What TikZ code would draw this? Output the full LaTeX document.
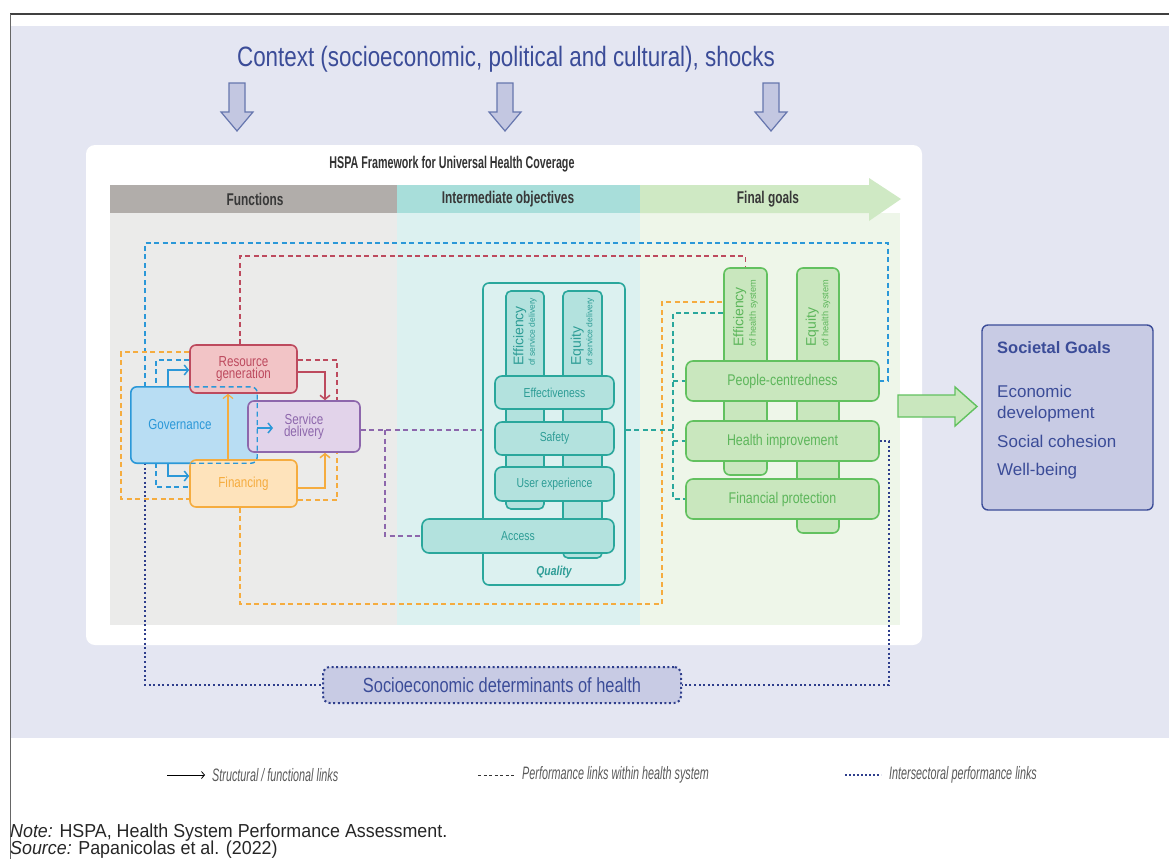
\documentclass[tikz,border=0pt]{standalone}
\usepackage{fontspec}
\setmainfont{Liberation Sans}
\newfontfamily\condfont[FakeStretch=0.8]{Liberation Sans}
\newfontfamily\headfont[FakeStretch=0.7]{Liberation Sans}
\newfontfamily\titlefont[FakeStretch=0.63]{Liberation Sans}
\newfontfamily\narrowfont[FakeStretch=0.6]{Liberation Sans}
\newfontfamily\notefont[FakeStretch=0.95]{Liberation Sans}
\usetikzlibrary{arrows.meta,calc}

\definecolor{bgLav}{HTML}{E4E6F2}
\definecolor{navy}{HTML}{3B4C98}
\definecolor{arrFill}{HTML}{C3C7E1}
\definecolor{arrLine}{HTML}{6676AE}
\definecolor{fnHead}{HTML}{B1ADAA}
\definecolor{fnBg}{HTML}{EBEBEA}
\definecolor{ioHead}{HTML}{A8DEDA}
\definecolor{ioBg}{HTML}{DCF1F0}
\definecolor{fgHead}{HTML}{CFE9C4}
\definecolor{fgBg}{HTML}{EEF6E9}
\definecolor{govLine}{HTML}{2B98D8}
\definecolor{govFill}{HTML}{B8DDF3}
\definecolor{resLine}{HTML}{BD4A5E}
\definecolor{resFill}{HTML}{F2C4C6}
\definecolor{sdLine}{HTML}{8D67AC}
\definecolor{sdFill}{HTML}{E2D3EA}
\definecolor{finLine}{HTML}{F5AC3F}
\definecolor{finFill}{HTML}{FEE3BB}
\definecolor{qLine}{HTML}{2AA79C}
\definecolor{qFill}{HTML}{B3E2DE}
\definecolor{qText}{HTML}{2E9D96}
\definecolor{gLine}{HTML}{62C15F}
\definecolor{gFill}{HTML}{C9E7BE}
\definecolor{gText}{HTML}{5DB65B}
\definecolor{dotBlue}{HTML}{2E3E8C}
\definecolor{sgFill}{HTML}{C8CBE4}

\pgfdeclarelayer{bg}
\pgfdeclarelayer{links}
\pgfsetlayers{bg,links,main}

\tikzset{
  box/.style={draw, rounded corners=6pt, line width=1.6pt, inner sep=0pt, align=center},
  fnbox/.style={box, font=\condfont\fontsize{14.5}{12.5}\selectfont},
  qbar/.style={box, draw=qLine, fill=qFill, text=qText, rounded corners=7pt,
    minimum width=119pt, minimum height=33pt, font=\condfont\fontsize{13}{13}\selectfont},
  gbar/.style={box, draw=gLine, fill=gFill, text=gText, rounded corners=7pt,
    minimum width=193pt, minimum height=40pt, font=\condfont\fontsize{15.5}{15}\selectfont},
  qpill/.style={box, draw=qLine, fill=qFill, rounded corners=5pt},
  gpill/.style={box, draw=gLine, fill=gFill, rounded corners=6pt},
  pilltext/.style={rotate=90, anchor=west, align=left, inner sep=0pt,
    font=\fontsize{9}{11.5}\selectfont},
  struct/.style={line width=1.5pt, -{Straight Barb[length=4pt,width=10pt]}},
  perf/.style={line width=1.4pt, dash pattern=on 5pt off 3.5pt},
  inter/.style={draw=dotBlue, line width=2pt, dash pattern=on 2pt off 2.6pt},
  headtext/.style={font=\headfont\bfseries\fontsize{17}{17}\selectfont, text=black!78},
  legendtext/.style={anchor=west, inner sep=0pt, text=black!65,
    font=\narrowfont\itshape\fontsize{18}{18}\selectfont},
}

\begin{document}
\begin{tikzpicture}[x=1pt,y=-1pt]
\useasboundingbox (0,0) rectangle (1169,859);

%%% frame and background
\begin{pgfonlayer}{bg}
  \fill[bgLav] (11,26) rectangle (1169,738);
  \draw[black!75, line width=2.5pt] (10,14) -- (1169,14);
  \draw[black!60, line width=0.8pt] (10,14) -- (10,859);
  % white panel
  \fill[white, rounded corners=9pt] (86,145) rectangle (922,645);
  % columns
  \fill[fnBg] (110,213) rectangle (397,625);
  \fill[ioBg] (397,213) rectangle (640,625);
  \fill[fgBg] (640,213) rectangle (900,625);
  \fill[fnHead] (110,185) rectangle (397,213);
  \fill[ioHead] (397,185) rectangle (640,213);
  \fill[fgHead] (640,185) -- (869,185) -- (869,178) -- (901,199) -- (869,221)
    -- (869,213) -- (640,213) -- cycle;
\end{pgfonlayer}

%%% context
\node[text=navy, font=\condfont\fontsize{28}{28}\selectfont] (ctx) at (506,59)
  {Context (socioeconomic, political and cultural), shocks};
\foreach \ax in {237,505,771}
  \draw[arrLine, fill=arrFill, line width=1.2pt] (\ax-8,83) -- (\ax+8,83) -- (\ax+8,112)
    -- (\ax+16,112) -- (\ax,131) -- (\ax-16,112) -- (\ax-8,112) -- cycle;

%%% headings
\node[font=\titlefont\bfseries\fontsize{17}{17}\selectfont, text=black!80] (title) at (452,164)
  {HSPA Framework for Universal Health Coverage};
\node[headtext] (hfn) at (255,199) {Functions};
\node[headtext] (hio) at (508,199) {Intermediate objectives};
\node[headtext] (hfg) at (768,199) {Final goals};

%%% functions
\node[fill=govFill, inner sep=0pt, rounded corners=6pt, minimum width=126pt, minimum height=76pt,
  label={[text=govLine, font=\condfont\fontsize{14.5}{14}\selectfont, xshift=-14pt]center:Governance}]
  (gov) at (194,425) {};
\begin{scope}
  \clip (100,370) rectangle (190,480);
  \draw[govLine, line width=1.6pt, rounded corners=6pt] (gov.north west) rectangle (gov.south east);
\end{scope}
\node[fnbox, draw=resLine, fill=resFill, text=resLine, minimum width=107pt, minimum height=48pt]
  (rg) at (243.5,369) {Resource\\generation};
\node[fnbox, draw=finLine, fill=finFill, text=finLine, minimum width=107pt, minimum height=47pt]
  (fin) at (243.5,483.5) {Financing};
\node[fnbox, draw=sdLine, fill=sdFill, text=sdLine, minimum width=112pt, minimum height=51pt]
  (sd) at (304,426.5) {Service\\delivery};
\begin{scope}
  \clip (190,370) rectangle (280,480);
  \draw[govLine, perf, rounded corners=6pt] (gov.north west) rectangle (gov.south east);
\end{scope}

%%% intermediate objectives
\node[box, draw=qLine, fill=ioBg, rounded corners=6pt, minimum width=142pt, minimum height=302pt]
  (qual) at (554,434) {};
\node[text=qText, font=\condfont\bfseries\itshape\fontsize{13}{13}\selectfont] (qlab) at (554,572) {Quality};
\node[qpill, minimum width=38pt, minimum height=218pt] (esd) at (525,400) {};
\node[qpill, minimum width=39pt, minimum height=267pt] (eqsd) at (582.5,424.5) {};
\node[pilltext, text=qText] (esdlab) at (525,366)
  {{\fontsize{14}{14}\selectfont Efficiency}\\{\fontsize{8.5}{8.5}\selectfont of service delivery}};
\node[pilltext, text=qText] (eqsdlab) at (582.5,366)
  {{\fontsize{14}{14}\selectfont Equity}\\{\fontsize{8.5}{8.5}\selectfont of service delivery}};
\node[qbar] (eff) at (554.5,392.5) {Effectiveness};
\node[qbar] (saf) at (554.5,438.5) {Safety};
\node[qbar, minimum height=34pt] (ux) at (554.5,484) {User experience};
\node[qbar, minimum width=192pt, minimum height=34pt] (acc) at (518,536) {Access};

%%% final goals
\node[gpill, minimum width=43pt, minimum height=207pt] (ehs) at (745.5,371.5) {};
\node[gpill, minimum width=42pt, minimum height=265pt] (eqhs) at (818,400.5) {};
\node[pilltext, text=gText, font=\fontsize{9}{12.5}\selectfont] (ehslab) at (745.5,347)
  {{\fontsize{14}{14}\selectfont Efficiency}\\{\fontsize{9.2}{9.2}\selectfont of health system}};
\node[pilltext, text=gText, font=\fontsize{9}{12.5}\selectfont] (eqhslab) at (818,347)
  {{\fontsize{14}{14}\selectfont Equity}\\{\fontsize{9.2}{9.2}\selectfont of health system}};
\node[gbar] (pc) at (782.5,381) {People-centredness};
\node[gbar] (hi) at (782.5,441) {Health improvement};
\node[gbar] (fp) at (782.5,499) {Financial protection};

%%% societal goals and determinants
\node[box, draw=navy, fill=sgFill, line width=1.4pt, minimum width=171pt, minimum height=185pt]
  (sg) at (1067.5,417.5) {};
\node[anchor=base west, inner sep=0pt, text=navy, font=\bfseries\fontsize{16.5}{16.5}\selectfont]
  (sgt) at (997,353) {Societal Goals};
\node[anchor=base west, inner sep=0pt, text=navy, font=\fontsize{17}{17}\selectfont] (sg1) at (997,397) {Economic};
\node[anchor=base west, inner sep=0pt, text=navy, font=\fontsize{17}{17}\selectfont] (sg2) at (997,418) {development};
\node[anchor=base west, inner sep=0pt, text=navy, font=\fontsize{17}{17}\selectfont] (sg3) at (997,447) {Social cohesion};
\node[anchor=base west, inner sep=0pt, text=navy, font=\fontsize{17}{17}\selectfont] (sg4) at (997,475) {Well-being};
\draw[gLine, fill=gFill, line width=1.4pt] (898,395) -- (955,395) -- (955,387) -- (977,406.5)
  -- (955,426) -- (955,417) -- (898,417) -- cycle;
\node[box, inter, fill=sgFill, rounded corners=7pt, minimum width=358pt, minimum height=36pt,
  text=navy, font=\condfont\fontsize{20.5}{20}\selectfont]
  (sdh) at (502,685) {Socioeconomic determinants of health};

%%% structural links
\draw[struct, govLine] (168,0 |- gov.north) |- (rg.west |- 0,370);
\draw[struct, govLine] (168,0 |- gov.south) |- (fin.west |- 0,476);
\draw[struct, govLine] (gov.east |- 0,428) -- (273,428);
\draw[struct, resLine] (rg.east |- 0,372) -| (325,0 |- sd.north);
\draw[struct, finLine] (fin.east |- 0,488) -| (325,0 |- sd.south);
\draw[struct, finLine, line width=1.2pt] (228,0 |- fin.north) -- (228,0 |- rg.south);

%%% performance and intersectoral links
\begin{pgfonlayer}{links}
  \draw[perf, govLine] (145,0 |- gov.north) -- (145,243) -| (888,0 |- pc.east) -- (pc.east);
  \draw[perf, resLine] (240,0 |- rg.north) -- (240,256) -| (ehs.north);
  \draw[perf, finLine] (240,0 |- fin.south) -- (240,604) -| (662,302) -- (ehs.west |- 0,302);
  \draw[perf, finLine] (rg.west |- 0,352) -- (121,352) -- (121,499) -- (fin.west |- 0,499);
  \draw[perf, govLine] (rg.west |- 0,360) -- (156,360) -- (156,487) -- (fin.west |- 0,487);
  \draw[perf, resLine] (rg.east |- 0,360) -| (337,0 |- sd.north);
  \draw[perf, finLine] (fin.east |- 0,500) -| (337,0 |- sd.south);
  \draw[perf, sdLine] (sd.east |- 0,430) -- (qual.west |- 0,430);
  \draw[perf, sdLine] (385,430) |- (acc.west);
  \draw[perf, qLine] (qual.east |- 0,430) -- (673,430);
  \draw[perf, qLine] (ehs.west |- 0,313) -| (673,0 |- fp.west) -- (fp.west);
  \draw[perf, qLine] (673,0 |- pc.west) -- (pc.west);
  \draw[perf, qLine] (673,0 |- hi.west) -- (hi.west);
  \draw[inter] (145,0 |- gov.south) |- (sdh.west);
  \draw[inter] (hi.east) -| (889,0 |- sdh.east) -- (sdh.east);
\end{pgfonlayer}

%%% legend
\draw[line width=0.8pt, -{Straight Barb[length=3pt,width=7pt]}] (167,775) -- (205,775);
\node[legendtext] (lg1) at (212,775) {Structural / functional links};
\draw[black!80, line width=1pt, dash pattern=on 3pt off 2.5pt] (478,775) -- (515,775);
\node[legendtext] (lg2) at (522,775) {Performance links within health system};
\draw[dotBlue, line width=1.6pt, dash pattern=on 1.6pt off 2.4pt] (845,775) -- (881,775);
\node[legendtext] (lg3) at (889,775) {Intersectoral performance links};

%%% note
\node[anchor=base west, inner sep=0pt, text=black!85, font=\notefont\fontsize{18.8}{18.8}\selectfont]
  (note) at (10,837) {\textit{Note:} HSPA, Health System Performance Assessment.};
\node[anchor=base west, inner sep=0pt, text=black!85, font=\notefont\fontsize{18.8}{18.8}\selectfont]
  (src) at (10,854) {\textit{Source:} Papanicolas et al. (2022)};
\end{tikzpicture}
\end{document}
